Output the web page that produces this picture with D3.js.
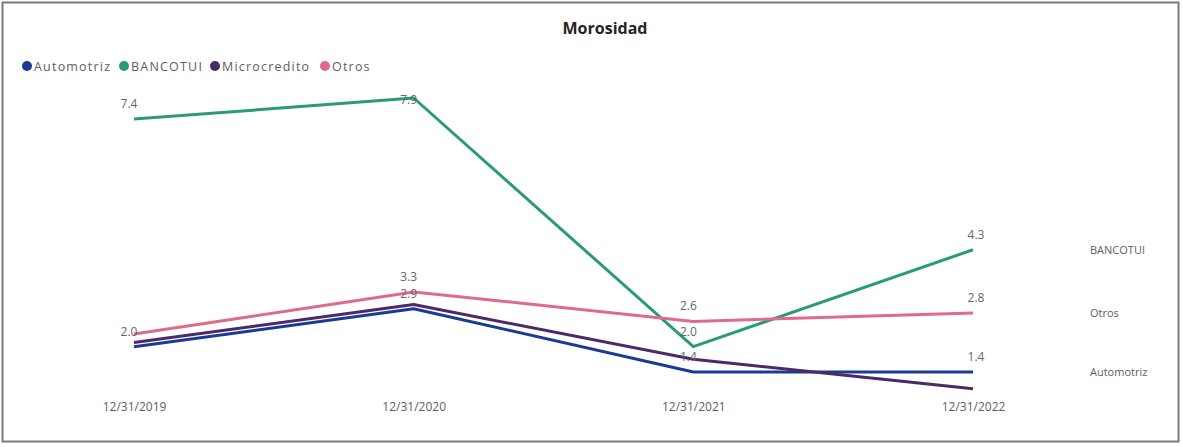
<!DOCTYPE html>
<html>
<head>
<meta charset="utf-8">
<script src="https://d3js.org/d3.v7.min.js"></script>
<title>Morosidad</title>
<style>
body { margin: 0; background: #fff; }
svg { display: block; }
text { font-family: "Open Sans", "DejaVu Sans", sans-serif; }
</style>
</head>
<body>
<svg width="1183" height="447"></svg>
<script>

// data
let dates = ["12/31/2019", "12/31/2020", "12/31/2021", "12/31/2022"];
let seriesNames = ["Automotriz", "BANCOTUI", "Microcredito", "Otros"];
let automotriz = [2.0, 2.9, 1.4, 1.4];
let bancotui = [7.4, 7.9, 2.0, 4.3];
let microcredito = [2.1, 3.0, 1.7, 1.0];
let otros = [2.3, 3.3, 2.6, 2.8];
// which points carry a data label (Microcredito shows none)
let labelled = {
  Automotriz: [true, true, true, true],
  BANCOTUI: [true, true, true, true],
  Microcredito: [false, false, false, false],
  Otros: [false, true, true, true]
};
let endLabels = ["BANCOTUI", "Otros", "Automotriz"];

let colors = {
  Automotriz: "#1b3a94",
  BANCOTUI: "#2a9a78",
  Microcredito: "#4a2a68",
  Otros: "#e06a8e"
};

let values = {
  Automotriz: automotriz,
  BANCOTUI: bancotui,
  Microcredito: microcredito,
  Otros: otros
};

let svg = d3.select("svg");

// frame
svg.append("rect")
  .attr("x", 2.5).attr("y", 2.5)
  .attr("width", 1176).attr("height", 439)
  .attr("fill", "#fff")
  .attr("stroke", "#7a7a7a")
  .attr("stroke-width", 2);

// title
svg.append("text")
  .attr("x", 605).attr("y", 34)
  .attr("text-anchor", "middle")
  .attr("font-size", 16)
  .attr("font-weight", "bold")
  .attr("fill", "#252423")
  .text("Morosidad");

// legend
let legend = svg.append("g").attr("transform", "translate(27,66)");
let lx = 0;
let legendGap = [97, 91, 110, 0];
seriesNames.forEach(function(name, i) {
  let g = legend.append("g").attr("transform", "translate(" + lx + ",0)");
  g.append("circle").attr("r", 5).attr("fill", colors[name]);
  g.append("text")
    .attr("x", 7).attr("y", 4.5)
    .attr("font-size", 12.5)
    .attr("letter-spacing", 1.2)
    .attr("fill", "#605e5c")
    .text(name);
  lx += legendGap[i];
});

let x = d3.scalePoint()
  .domain(dates)
  .range([134, 973]);

let allValues = [].concat(automotriz, bancotui, microcredito, otros);
let y = d3.scaleLinear()
  .domain([0, d3.max(allValues)])
  .range([431, 98]);

// x axis labels only
let xAxis = svg.append("g")
  .attr("transform", "translate(0,402)")
  .call(d3.axisBottom(x).tickSize(0).tickPadding(0));
xAxis.select(".domain").remove();
xAxis.selectAll("text")
  .attr("font-size", 12)
  .attr("fill", "#605e5c")
  .style("font-family", "\"Open Sans\", sans-serif");

let line = d3.line()
  .x(function(d, i) { return x(dates[i]); })
  .y(function(d) { return y(d); });

seriesNames.forEach(function(name) {
  svg.append("path")
    .datum(values[name])
    .attr("fill", "none")
    .attr("stroke", colors[name])
    .attr("stroke-width", 3)
    .attr("stroke-linejoin", "round")
    .attr("d", line);
});

// data labels
seriesNames.forEach(function(name) {
  values[name].forEach(function(v, i) {
    if (!labelled[name][i]) return;
    let ly = Math.max(y(v) - 11, 104);
    svg.append("text")
      .attr("x", x(dates[i]) - 5 + (i == 3 ? 8 : 0))
      .attr("y", ly)
      .attr("text-anchor", "middle")
      .attr("font-size", 12)
      .attr("fill", "#666")
      .text(d3.format(".1f")(v));
  });
});

// series names at the right end
endLabels.forEach(function(name) {
  let v = values[name][values[name].length - 1];
  svg.append("text")
    .attr("x", 1090)
    .attr("y", y(v) + 4)
    .attr("font-size", 11)
    .attr("fill", "#605e5c")
    .text(name);
});

</script>
</body>
</html>
